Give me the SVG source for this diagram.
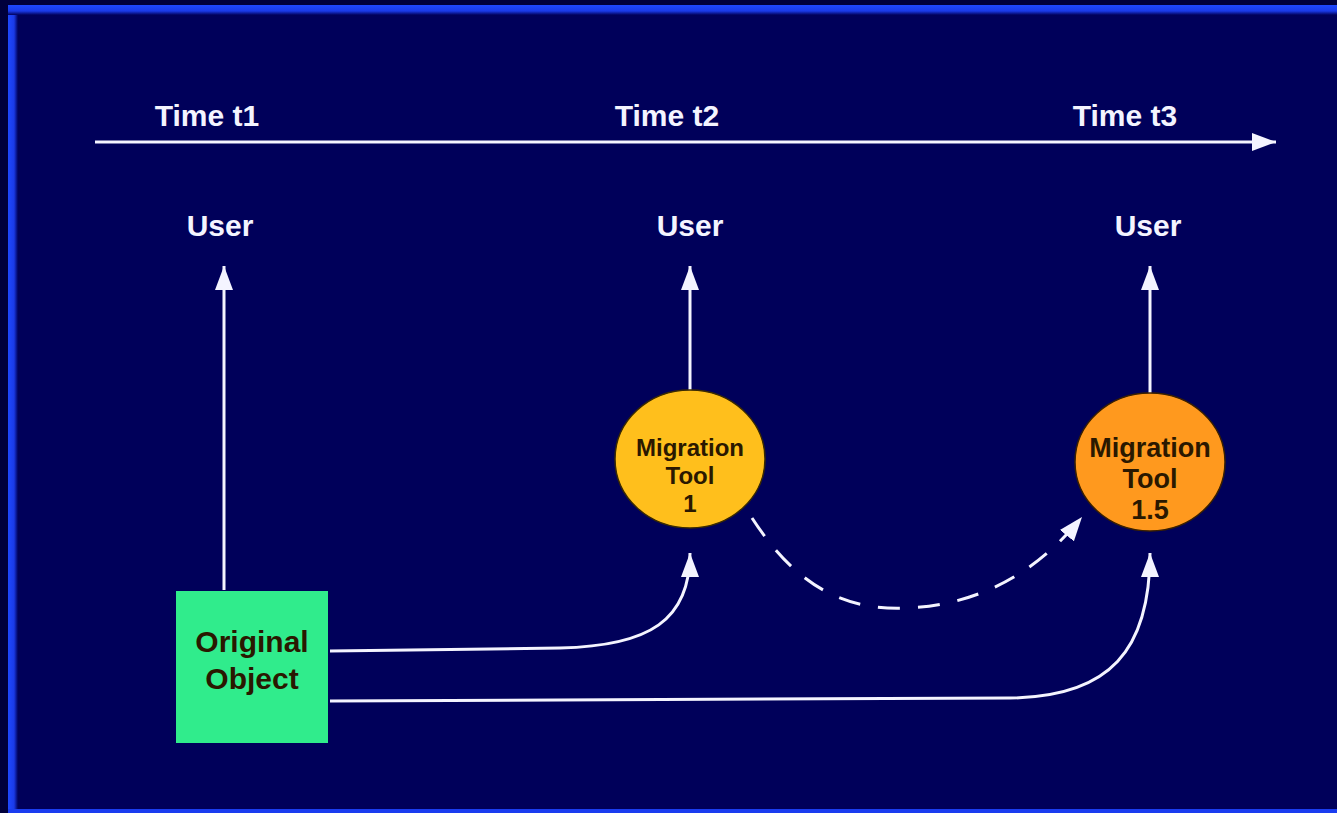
<svg xmlns="http://www.w3.org/2000/svg" width="1337" height="813" viewBox="0 0 1337 813">
<defs>
<linearGradient id="gl" x1="0" y1="0" x2="1" y2="0">
<stop offset="0" stop-color="#1e48ff"/><stop offset="0.6" stop-color="#1a3ae8"/><stop offset="1" stop-color="#00005a"/>
</linearGradient>
<linearGradient id="gt" x1="0" y1="0" x2="0" y2="1">
<stop offset="0" stop-color="#1e48ff"/><stop offset="0.6" stop-color="#1a3ae8"/><stop offset="1" stop-color="#00005a"/>
</linearGradient>
<marker id="ah" markerUnits="userSpaceOnUse" markerWidth="26" markerHeight="20" refX="24" refY="10" orient="auto">
<path d="M0,1 L24,10 L0,19 Z" fill="#f4f4ff"/>
</marker>
</defs>
<style>
.t{font-family:"Liberation Sans",Arial,sans-serif;font-weight:bold;fill:#f4f4ff;font-size:30px;text-anchor:middle}
.n{font-family:"Liberation Sans",Arial,sans-serif;font-weight:bold;fill:#2a1800;text-anchor:middle}
.c{fill:none;stroke:#f4f4ff;stroke-width:3}
</style>
<rect width="1337" height="813" fill="#00003c"/>
<rect x="8" y="5" width="1329" height="808" fill="#00005a"/>
<rect x="8" y="5" width="10" height="808" fill="url(#gl)"/>
<rect x="8" y="5" width="1329" height="10" fill="url(#gt)"/>
<rect x="8" y="809" width="1329" height="4" fill="#1a3cf0"/>

<g id="timeline">
<path class="c" d="M95,142 L1276,142" marker-end="url(#ah)"/>
<text class="t" x="207" y="126">Time t1</text>
<text class="t" x="667" y="126">Time t2</text>
<text class="t" x="1125" y="126">Time t3</text>
</g>

<g id="user1"><text class="t" x="220" y="236">User</text></g>
<g id="user2"><text class="t" x="690" y="236">User</text></g>
<g id="user3"><text class="t" x="1148" y="236">User</text></g>

<g id="connectors">
<path class="c" d="M224,590 L224,266" marker-end="url(#ah)"/>
<path class="c" d="M690,390 L690,266" marker-end="url(#ah)"/>
<path class="c" d="M1150,393 L1150,266" marker-end="url(#ah)"/>
<path class="c" d="M330,651 L560,648 C650,646 690,620 690,553" marker-end="url(#ah)"/>
<path class="c" d="M330,701 L1010,698 C1110,697 1150,650 1150,553" marker-end="url(#ah)"/>
<path class="c" d="M752,518 C800,592 850,610 905,608 C975,606 1035,575 1082,517" stroke-dasharray="22,18" marker-end="url(#ah)"/>
</g>

<g id="tool1">
<ellipse cx="690" cy="459" rx="75" ry="69" fill="#ffbf1c" stroke="#3a2a00" stroke-width="1.5"/>
<text class="n" x="690" y="456" font-size="24">Migration</text>
<text class="n" x="690" y="484" font-size="24">Tool</text>
<text class="n" x="690" y="512" font-size="24">1</text>
</g>

<g id="tool15">
<ellipse cx="1150" cy="462" rx="75" ry="69" fill="#ff991e" stroke="#3a2000" stroke-width="1.5"/>
<text class="n" x="1150" y="457" font-size="27">Migration</text>
<text class="n" x="1150" y="488" font-size="27">Tool</text>
<text class="n" x="1150" y="519" font-size="27">1.5</text>
</g>

<g id="original">
<rect x="176" y="591" width="152" height="152" fill="#30ec8c"/>
<text class="n" x="252" y="652" font-size="30" fill="#0a2010">Original</text>
<text class="n" x="252" y="689" font-size="30" fill="#0a2010">Object</text>
</g>
</svg>
